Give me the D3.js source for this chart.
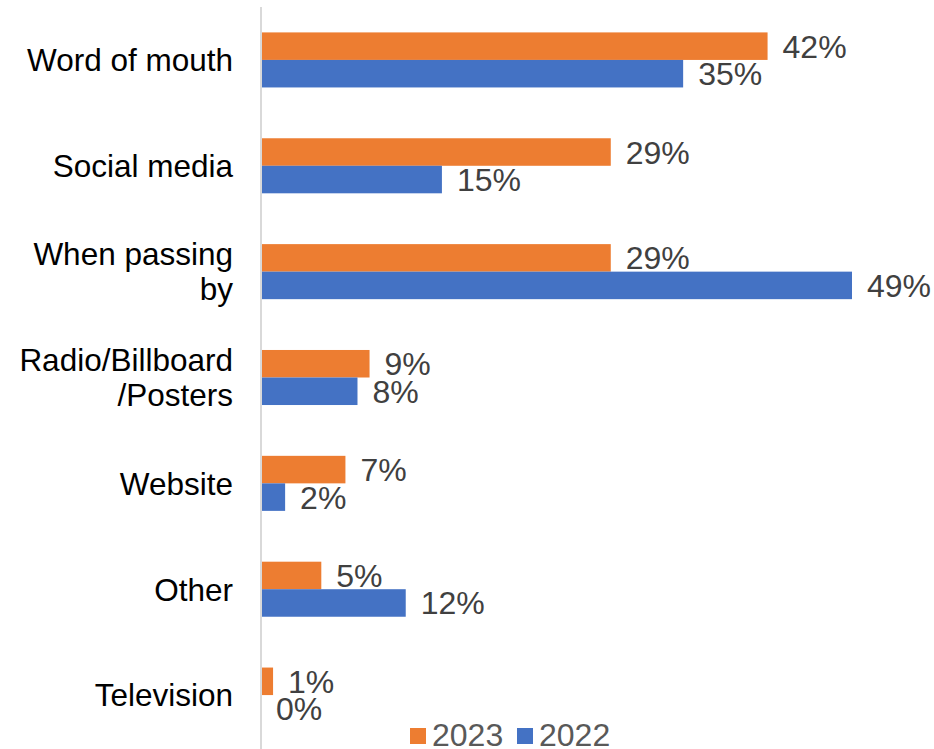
<!DOCTYPE html>
<html>
<head>
<meta charset="utf-8">
<script src="https://cdn.jsdelivr.net/npm/d3@7"></script>
<style>
  body { margin: 0; background: #fff; }
  svg { display: block; font-family: "Liberation Sans", Arial, sans-serif; }
</style>
</head>
<body>
<div id="chart"></div>
<script>
// data
var categories = ["Word of mouth", "Social media", "When passing by", "Radio/Billboard /Posters", "Website", "Other", "Television"];
var labelLines = [["Word of mouth"], ["Social media"], ["When passing", "by"], ["Radio/Billboard", "/Posters"], ["Website"], ["Other"], ["Television"]];
var series = ["2023", "2022"];
var values2023 = [42, 29, 29, 9, 7, 5, 1];
var values2022 = [35, 15, 49, 8, 2, 12, 0];
var colors = ["#ED7D31", "#4472C4"];

var width = 934, height = 749;

var svg = d3.select("#chart")
  .append("svg")
    .attr("width", width)
    .attr("height", height);

var data = categories.map(function(c, i) {
  return { cat: c, lines: labelLines[i], vals: [values2023[i], values2022[i]] };
});

var x = d3.scaleLinear()
    .domain([0, 49])
    .range([261, 852]);

var y = d3.scaleBand()
    .domain(categories)
    .range([7, 748])
    .paddingInner(0.48)
    .paddingOuter(0.24);

var y1 = d3.scaleBand()
    .domain(series)
    .range([0, y.bandwidth()]);

// axis line
svg.append("line")
  .attr("x1", x(0)).attr("x2", x(0))
  .attr("y1", 7).attr("y2", height)
  .attr("stroke", "#d9d9d9")
  .attr("stroke-width", 2);

var groups = svg.append("g")
  .selectAll("g")
  .data(data)
  .enter()
  .append("g")
    .attr("transform", function(d) { return "translate(0," + y(d.cat) + ")"; });

groups.selectAll("rect")
  .data(function(d) { return d.vals.map(function(v, i) { return { s: series[i], v: v, i: i }; }); })
  .enter()
  .append("rect")
    .attr("x", x(0) + 1)
    .attr("y", function(d) { return y1(d.s); })
    .attr("width", function(d) { return Math.max(0, x(d.v) - x(0) - 1); })
    .attr("height", y1.bandwidth())
    .attr("fill", function(d) { return colors[d.i]; });

groups.selectAll("text.val")
  .data(function(d) { return d.vals.map(function(v, i) { return { s: series[i], v: v, i: i }; }); })
  .enter()
  .append("text")
    .attr("class", "val")
    .attr("x", function(d) { return x(d.v) + 15; })
    .attr("y", function(d) { return y1(d.s) + y1.bandwidth() / 2; })
    .attr("dy", "0.36em")
    .attr("font-size", "32px")
    .attr("fill", "#404040")
    .text(function(d) { return d.v + "%"; });

// category labels
groups.each(function(d) {
  var g = d3.select(this);
  var n = d.lines.length;
  var lh = 35;
  var t = g.append("text")
    .attr("text-anchor", "end")
    .attr("font-size", "31.5px")
    .attr("fill", "#000");
  d.lines.forEach(function(line, k) {
    t.append("tspan")
      .attr("x", 233)
      .attr("y", y.bandwidth() / 2 + (k - (n - 1) / 2) * lh)
      .attr("dy", "0.36em")
      .text(line);
  });
});

// legend
var legend = svg.append("g");
var legendX = [410, 517];
series.forEach(function(s, i) {
  legend.append("rect")
    .attr("x", legendX[i]).attr("y", 728)
    .attr("width", 16).attr("height", 16)
    .attr("fill", colors[i]);
  legend.append("text")
    .attr("x", legendX[i] + 22)
    .attr("y", 734)
    .attr("dy", "0.36em")
    .attr("font-size", "32px")
    .attr("fill", "#595959")
    .text(s);
});
</script>
</body>
</html>
